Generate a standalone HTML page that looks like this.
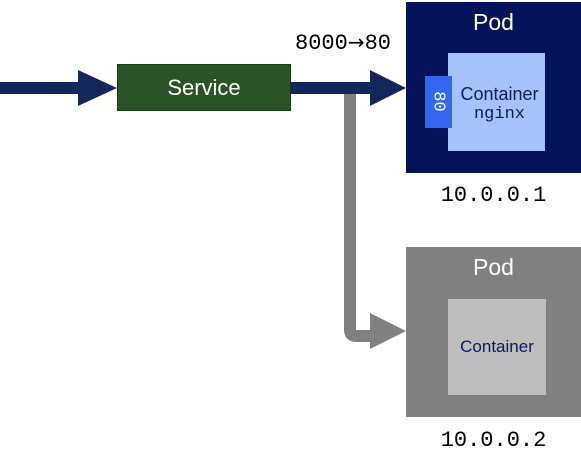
<!DOCTYPE html>
<html><head><style>
body{margin:0;width:581px;height:468px;background:#fff;overflow:hidden;position:relative;font-family:"Liberation Sans",sans-serif}
.a{position:absolute}
</style></head><body>
<svg class="a" style="left:0;top:0" width="581" height="468">
<path d="M350 92 V330 Q350 336 356 336 H372" stroke="#808080" stroke-width="12" fill="none"/>
<polygon points="370,313 406,331 370,349" fill="#808080"/>
<rect x="0" y="82" width="82" height="12" fill="#14275a"/>
<polygon points="78,70 117,88 78,106" fill="#14275a"/>
<rect x="290" y="82" width="84" height="12" fill="#14275a"/>
<polygon points="370,70 406,88 370,106" fill="#14275a"/>
</svg>
<div class="a" style="left:117px;top:64px;width:174px;height:47px;background:#2b5228;border:1px solid #1b3a18;box-sizing:border-box;color:#fff;font-size:22px;text-align:center;line-height:45px">Service</div>
<div class="a" style="left:295px;top:29px;font-family:'Liberation Mono',monospace;font-size:22px;line-height:26px;white-space:nowrap">8000<span style="font-family:'DejaVu Sans',sans-serif;font-size:20px">→</span>80</div>
<div class="a" style="left:406px;top:2px;width:175px;height:171px;background:#06125a"></div>
<div class="a" style="left:406px;top:9px;width:175px;text-align:center;color:#fff;font-size:23px">Pod</div>
<div class="a" style="left:448px;top:53px;width:97px;height:98px;background:#a4c2fc;text-align:center;color:#0a1a60">
<div style="font-size:18px;margin-top:31px;margin-left:6px">Container</div>
<div style="font-family:'Liberation Mono',monospace;font-size:17px;margin-left:6px">nginx</div></div>
<div class="a" style="left:425px;top:76px;width:27px;height:52px;background:#3466ee;color:#fff"><div style="transform:rotate(90deg);font-family:'Liberation Mono',monospace;font-size:17px;position:absolute;left:3px;top:16px">80</div></div>
<div class="a" style="left:406px;top:174px;width:175px;text-align:center;font-family:'Liberation Mono',monospace;font-size:22px;line-height:44px">10.0.0.1</div>
<div class="a" style="left:406px;top:247px;width:175px;height:170px;background:#808080"></div>
<div class="a" style="left:406px;top:254px;width:175px;text-align:center;color:#fff;font-size:23px">Pod</div>
<div class="a" style="left:448px;top:299px;width:98px;height:96px;background:#bebebe;text-align:center;color:#0a1a60;font-size:17px;line-height:96px">Container</div>
<div class="a" style="left:406px;top:419px;width:175px;text-align:center;font-family:'Liberation Mono',monospace;font-size:22px;line-height:44px">10.0.0.2</div>
</body></html>
